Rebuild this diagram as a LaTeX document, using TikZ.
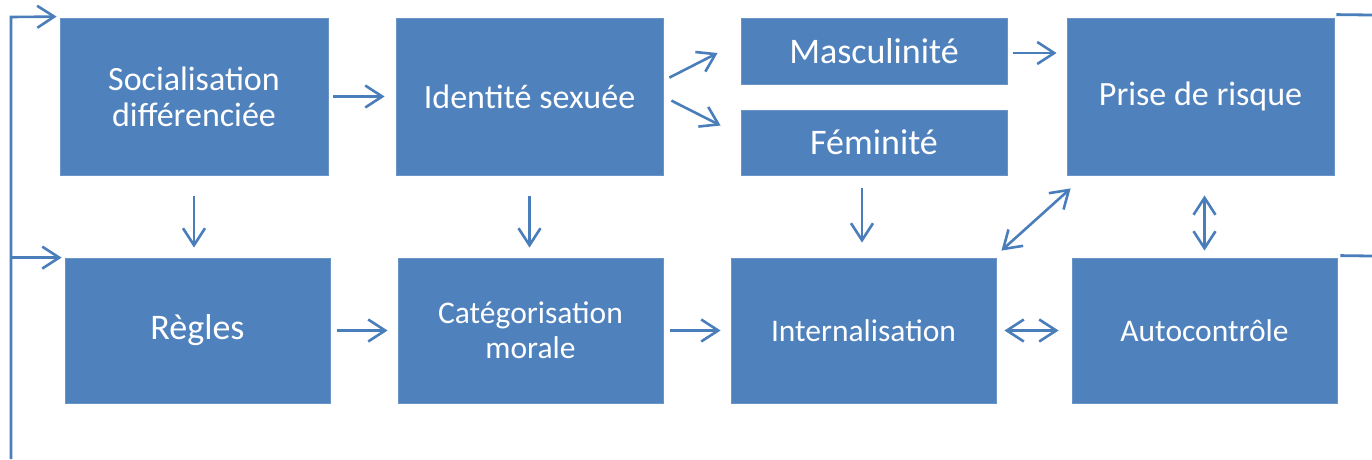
\documentclass[tikz,border=0pt]{standalone}
\usepackage{fontspec}
\setmainfont{Carlito}
\usetikzlibrary{arrows.meta,calc}
\definecolor{boxblue}{HTML}{4F81BD}
\definecolor{linkblue}{HTML}{4A7EBB}
\tikzset{
  blk/.style={fill=boxblue, draw=boxblue!85!white, line width=0.8pt, text=white, align=center, inner sep=0pt},
  arr/.style={draw=linkblue, line width=2.6pt, -{Straight Barb[length=17pt,width=22pt,line width=2.6pt]}},
  darr/.style={draw=linkblue, line width=2.6pt, {Straight Barb[length=17pt,width=22pt,line width=2.6pt]}-{Straight Barb[length=17pt,width=22pt,line width=2.6pt]}},
  plain/.style={draw=linkblue, line width=2.8pt},
  fA/.style={font=\fontsize{34}{36}\selectfont},
  fB/.style={font=\fontsize{31.5}{35}\selectfont},
  fC/.style={font=\fontsize{36}{40}\selectfont}
}
\begin{document}
\begin{tikzpicture}[x=1pt,y=-1pt]
\useasboundingbox (0,0) rectangle (1372,459);
% top row
\node[blk,fA,minimum width=268pt,minimum height=157pt] (soc) at (194,96.5) {Socialisation\\différenciée};
\node[blk,fA,minimum width=267pt,minimum height=157pt] (id) at (529.5,96.5) {Identité sexuée};
\node[blk,fC,minimum width=266pt,minimum height=66pt] (masc) at (874,51) {Masculinité};
\node[blk,fC,minimum width=266pt,minimum height=65pt] (fem) at (874,142.5) {Féminité};
\node[blk,fA,minimum width=267pt,minimum height=157pt] (prise) at (1200.5,96.5) {Prise de risque};
% bottom row
\node[blk,fC,minimum width=265pt,minimum height=145pt] (reg) at (197.5,330.5) {\raisebox{-2pt}{Règles}};
\node[blk,fB,minimum width=265pt,minimum height=145pt] (cat) at (530.5,330.5) {Catégorisation\\morale};
\node[blk,fB,minimum width=265pt,minimum height=145pt] (int) at (863.5,330.5) {Internalisation};
\node[blk,fB,minimum width=265pt,minimum height=145pt] (auto) at (1204.5,330.5) {Autocontrôle};
% horizontal arrows
\draw[arr, shorten <=5pt, shorten >=11pt] (soc.east) -- (id.west);
\draw[arr] ($(id.north east)+(6,60)$) -- ($(masc.west)+(-23,2)$);
\draw[arr] ($(id.north east)+(8,83)$) -- ($(fem.west)+(-20,-17)$);
\draw[arr, shorten <=6pt, shorten >=10pt] ($(masc.east)+(0,2)$) -- ($(prise.west |- masc.east)+(0,2)$);
\draw[arr, shorten <=7pt, shorten >=10pt] (reg.east) -- (cat.west);
\draw[arr, shorten <=7pt, shorten >=10pt] (cat.east) -- (int.west);
\draw[darr, shorten <=8pt, shorten >=13pt] (int.east) -- (auto.west);
% vertical arrows
\draw[arr, shorten <=21pt, shorten >=10pt] (soc.south) -- (soc.south |- reg.north);
\draw[arr, shorten <=21pt, shorten >=10pt] (id.south) -- (id.south |- cat.north);
\draw[arr, shorten <=13pt, shorten >=15pt] ($(fem.south)+(-12,0)$) -- ($(int.north)+(-1.5,0)$);
\draw[darr, shorten <=20pt, shorten >=7pt] (auto.north |- prise.south) -- (auto.north);
\draw[darr] ($(int.north east)+(5,-7)$) -- ($(prise.south west)+(4,13)$);
% feedback lines
\coordinate (fbot) at (11,459);
\coordinate (ftop) at (11,17);
\draw[arr, line join=miter] (fbot) -- (ftop) -- ($(soc.north west)+(-3,-1)$);
\draw[arr] (fbot |- reg.north) -- ($(reg.north west)+(-3,0)$);
\coordinate (rtop) at (1372,15);
\coordinate (rmid) at (1372,256);
\draw[plain] ($(prise.north east)+(2,-3)$) -- (rtop);
\draw[plain] ($(auto.north east)+(3,-2)$) -- (rmid);
\end{tikzpicture}
\end{document}
